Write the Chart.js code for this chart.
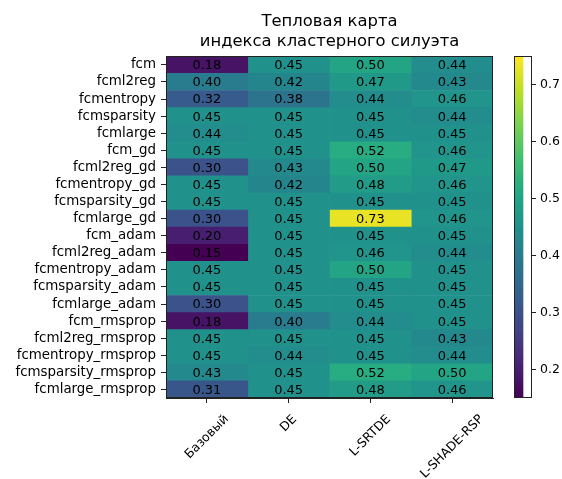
<!DOCTYPE html>
<html>
<head>
<meta charset="utf-8">
<script src="https://cdn.jsdelivr.net/npm/chart.js@4.4.1/dist/chart.umd.min.js"></script>
<style>
  body { margin: 0; background: #fff; }
  #wrap { position: relative; width: 562px; height: 479px; }
  #heat { position: absolute; left: 0; top: 0; }
  #cbar { position: absolute; left: 514px; top: 0; }
</style>
</head>
<body>
<div id="wrap">
  <canvas id="heat" width="562" height="479"></canvas>
  <canvas id="cbar" width="48" height="479"></canvas>
</div>
<script>
// rows of the heatmap (top to bottom)
var rows = ['fcm', 'fcml2reg', 'fcmentropy', 'fcmsparsity', 'fcmlarge',
  'fcm_gd', 'fcml2reg_gd', 'fcmentropy_gd', 'fcmsparsity_gd', 'fcmlarge_gd',
  'fcm_adam', 'fcml2reg_adam', 'fcmentropy_adam', 'fcmsparsity_adam', 'fcmlarge_adam',
  'fcm_rmsprop', 'fcml2reg_rmsprop', 'fcmentropy_rmsprop', 'fcmsparsity_rmsprop', 'fcmlarge_rmsprop'];
var columns = ['Базовый', 'DE', 'L-SRTDE', 'L-SHADE-RSP'];

// silhouette values, one array per column
var baseVals   = [0.18, 0.40, 0.32, 0.45, 0.44, 0.45, 0.30, 0.45, 0.45, 0.30, 0.20, 0.15, 0.45, 0.45, 0.30, 0.18, 0.45, 0.45, 0.43, 0.31];
var deVals     = [0.45, 0.42, 0.38, 0.45, 0.45, 0.45, 0.43, 0.42, 0.45, 0.45, 0.45, 0.45, 0.45, 0.45, 0.45, 0.40, 0.45, 0.44, 0.45, 0.45];
var srtdeVals  = [0.50, 0.47, 0.44, 0.45, 0.45, 0.52, 0.50, 0.48, 0.45, 0.73, 0.45, 0.46, 0.50, 0.45, 0.45, 0.44, 0.45, 0.45, 0.52, 0.48];
var shadeVals  = [0.44, 0.43, 0.46, 0.44, 0.45, 0.46, 0.47, 0.46, 0.45, 0.46, 0.45, 0.44, 0.45, 0.45, 0.45, 0.45, 0.43, 0.44, 0.50, 0.46];
var colValues = [baseVals, deVals, srtdeVals, shadeVals];

var vmin = 0.15, vmax = 0.75;
var cbTicks = [0.2, 0.3, 0.4, 0.5, 0.6, 0.7];

var viridis = ['#440154', '#482475', '#414487', '#355f8d', '#2a788e', '#21918c',
  '#22a884', '#44bf70', '#7ad151', '#bddf26', '#fde725'];

function hex2rgb(h) {
  return [parseInt(h.substr(1, 2), 16), parseInt(h.substr(3, 2), 16), parseInt(h.substr(5, 2), 16)];
}

function colorFor(v) {
  var t = (v - vmin) / (vmax - vmin);
  t = Math.max(0, Math.min(1, t));
  var p = t * (viridis.length - 1);
  var i = Math.min(Math.floor(p), viridis.length - 2);
  var f = p - i;
  var a = hex2rgb(viridis[i]), b = hex2rgb(viridis[i + 1]);
  var c = a.map(function(x, k) { return Math.round(x + (b[k] - x) * f); });
  return 'rgb(' + c.join(',') + ')';
}

var FONT = 'DejaVu Sans';

// each column is a stacked bar segment of width 1, coloured by its value
var datasets = colValues.map(function(vals, ci) {
  return {
    label: columns[ci],
    data: vals.map(function() { return 1; }),
    values: vals,
    backgroundColor: vals.map(colorFor),
    borderWidth: 0,
    barPercentage: 1,
    categoryPercentage: 1
  };
});

var cellText = {
  id: 'cellText',
  afterDatasetsDraw: function(chart) {
    var ctx = chart.ctx;
    ctx.save();
    ctx.font = '13px "' + FONT + '"';
    ctx.fillStyle = '#000';
    ctx.textAlign = 'center';
    ctx.textBaseline = 'middle';
    chart.data.datasets.forEach(function(ds, di) {
      chart.getDatasetMeta(di).data.forEach(function(el, ri) {
        var p = el.getCenterPoint();
        ctx.fillText(ds.values[ri].toFixed(2), p.x, p.y + 1);
      });
    });
    // frame
    var a = chart.chartArea;
    ctx.strokeStyle = '#222';
    ctx.lineWidth = 1;
    ctx.strokeRect(Math.round(a.left) + 0.5, Math.round(a.top) + 0.5, Math.round(a.right - a.left) - 1, Math.round(a.bottom - a.top) - 1);
    // rotated column labels, centred on the ticks
    var xs = chart.scales.x;
    ctx.font = '12.5px "' + FONT + '"';
    columns.forEach(function(lbl, ci) {
      var x = xs.getPixelForValue(ci + 0.5);
      var w = ctx.measureText(lbl).width;
      var half = (w + 12) * Math.SQRT1_2 / 2;
      ctx.save();
      ctx.translate(x, a.bottom + 15 + half);
      ctx.rotate(-Math.PI / 4);
      ctx.fillText(lbl, 0, 0);
      ctx.restore();
    });
    ctx.restore();
  }
};

new Chart(document.getElementById('heat').getContext('2d'), {
  type: 'bar',
  data: { labels: rows, datasets: datasets },
  plugins: [cellText],
  options: {
    responsive: false,
    animation: false,
    events: [],
    indexAxis: 'y',
    layout: { padding: { left: 0, right: 69, top: 0, bottom: 0 } },
    plugins: {
      legend: { display: false },
      tooltip: { enabled: false },
      title: {
        display: true,
        fullSize: false,
        text: ['Тепловая карта', 'индекса кластерного силуэта'],
        color: '#000',
        font: { family: FONT, size: 16.4, weight: 'normal', lineHeight: 1.2 },
        padding: { top: 12, bottom: 5 }
      }
    },
    scales: {
      x: {
        type: 'linear',
        stacked: true,
        min: 0,
        max: 4,
        afterBuildTicks: function(scale) {
          scale.ticks = columns.map(function(c, i) { return { value: i + 0.5 }; });
        },
        afterFit: function(scale) { scale.height = 81; },
        ticks: { display: false },
        grid: { drawOnChartArea: false, drawTicks: true, tickLength: 5, color: '#222', lineWidth: 1 },
        border: { display: true, color: '#222' }
      },
      y: {
        type: 'category',
        stacked: true,
        offset: true,
        afterFit: function(scale) { scale.width = 166; },
        ticks: { color: '#000', padding: 5, autoSkip: false, font: { family: FONT, size: 13.4 } },
        grid: { offset: false, drawOnChartArea: false, drawTicks: true, tickLength: 5, color: '#222', lineWidth: 1 },
        border: { display: true, color: '#222' }
      }
    }
  }
});

// colour bar
var cbFrame = {
  id: 'cbFrame',
  afterDatasetsDraw: function(chart) {
    var a = chart.chartArea, ctx = chart.ctx;
    ctx.save();
    ctx.strokeStyle = '#222';
    ctx.lineWidth = 1;
    ctx.strokeRect(Math.round(a.left) + 0.5, Math.round(a.top) + 0.5, Math.round(a.right - a.left) - 1, Math.round(a.bottom - a.top) - 1);
    ctx.restore();
  }
};

new Chart(document.getElementById('cbar').getContext('2d'), {
  type: 'bar',
  data: {
    labels: [''],
    datasets: [{
      data: [[vmin, vmax]],
      borderWidth: 0,
      barPercentage: 1,
      categoryPercentage: 1,
      backgroundColor: function(c) {
        var area = c.chart.chartArea;
        if (!area) return viridis[5];
        var g = c.chart.ctx.createLinearGradient(0, area.bottom, 0, area.top);
        viridis.forEach(function(col, i) { g.addColorStop(i / (viridis.length - 1), col); });
        return g;
      }
    }]
  },
  plugins: [cbFrame],
  options: {
    responsive: false,
    animation: false,
    events: [],
    layout: { padding: { left: 0, right: 0, top: 56, bottom: 81 } },
    plugins: { legend: { display: false }, tooltip: { enabled: false } },
    scales: {
      x: { display: false, offset: false },
      y: {
        position: 'right',
        min: vmin,
        max: vmax,
        afterBuildTicks: function(scale) {
          scale.ticks = cbTicks.map(function(v) { return { value: v }; });
        },
        afterFit: function(scale) { scale.width = 30; },
        ticks: {
          color: '#000',
          padding: 4,
          font: { family: FONT, size: 12.5 },
          callback: function(v) { return v.toFixed(1); }
        },
        grid: { drawOnChartArea: false, drawTicks: true, tickLength: 4, color: '#222' },
        border: { display: false }
      }
    }
  }
});
</script>
</body>
</html>
